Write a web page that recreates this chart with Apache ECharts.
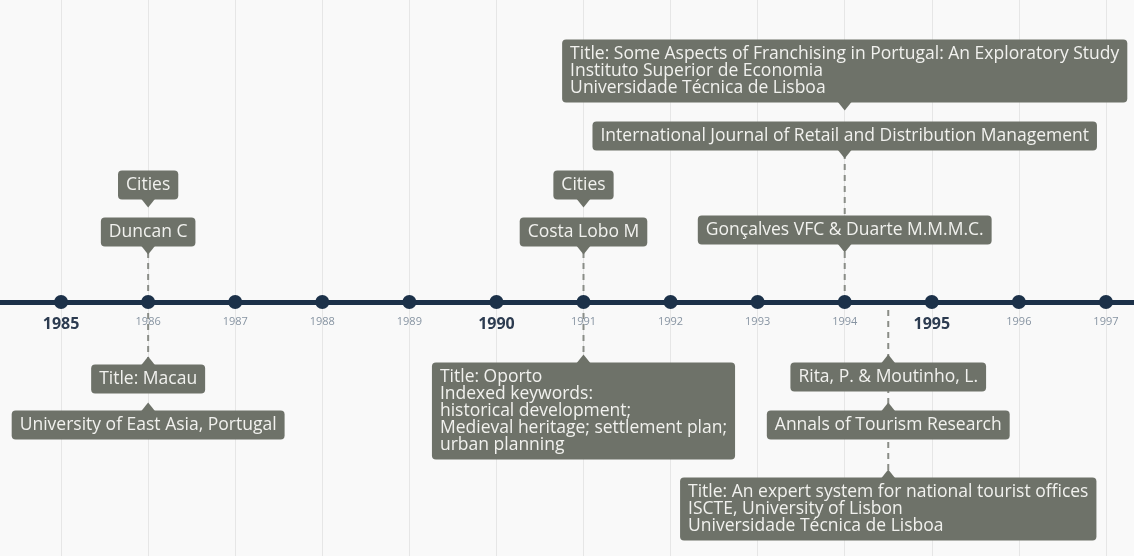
<!DOCTYPE html>
<html>
<head>
<meta charset="utf-8">
<script src="https://cdn.jsdelivr.net/npm/echarts@6/dist/echarts.min.js"></script>
<style>
  html, body { margin: 0; padding: 0; background: #f9f9f9; }
  #chart { width: 1134px; height: 556px; }
</style>
</head>
<body>
<div id="chart"></div>
<script>
// timeline years and the bold ones
const years = [1985, 1986, 1987, 1988, 1989, 1990, 1991, 1992, 1993, 1994, 1995, 1996, 1997]
const majorYears = [1985, 1990, 1995]

// each info box: the year it hangs from and its text
const boxYear = [1986, 1986, 1986, 1986, 1991, 1991, 1991, 1994, 1994, 1994, 1994.5, 1994.5, 1994.5]
const boxText = [
  'Duncan C',
  'Cities',
  'Title: Macau',
  'University of East Asia, Portugal',
  'Costa Lobo M',
  'Cities',
  'Title: Oporto\nIndexed keywords:\nhistorical development;\nMedieval heritage; settlement plan;\nurban planning',
  'Gonçalves VFC & Duarte M.M.M.C.',
  'International Journal of Retail and Distribution Management',
  'Title: Some Aspects of Franchising in Portugal: An Exploratory Study\nInstituto Superior de Economia\nUniversidade Técnica de Lisboa',
  'Rita, P. & Moutinho, L.',
  'Annals of Tourism Research',
  'Title: An expert system for national tourist offices\nISCTE, University of Lisbon\nUniversidade Técnica de Lisboa'
]
// dashed connectors from the axis
const linkYear = [1986, 1986, 1991, 1991, 1994, 1994.5]

// layout only: px above (+) / below (-) the axis line
const boxOffset = [70, 117, -77, -123, 70, 117, -109, 72, 166, 231, -75, -123, -207]
const linkFrom = [0, 0, 0, 0, 0, -8]
const linkTo = [49, -56, 49, -56, 147, -168]

const LINE_H = 17
const PAD_V = 6
const BOX_COLOR = '#6e7269'
const NAVY = '#1c3149'
const FONT = 'Open Sans'

const boxHeight = t => t.split('\n').length * LINE_H + PAD_V * 2

const chart = echarts.init(document.getElementById('chart'))

const series = []

// dashed connectors
linkYear.forEach((y, i) => {
  series.push({
    type: 'line',
    silent: true,
    symbol: 'none',
    z: 1,
    data: [[y, linkFrom[i]], [y, linkTo[i]]],
    lineStyle: { color: '#8a8d87', width: 2, type: [6, 5] }
  })
})

// pointers on the boxes
series.push({
  type: 'scatter',
  silent: true,
  clip: false,
  z: 3,
  data: boxYear.map((y, i) => {
    const h = boxHeight(boxText[i])
    const up = boxOffset[i] > 0
    const edge = up ? boxOffset[i] - h / 2 - 3 : boxOffset[i] + h / 2 + 3
    return { value: [y, edge], symbolRotate: up ? 180 : 0 }
  }),
  symbol: 'triangle',
  symbolSize: [16, 10],
  itemStyle: { color: BOX_COLOR, opacity: 1 }
})

// the boxes
series.push({
  type: 'scatter',
  silent: true,
  clip: false,
  z: 4,
  symbolSize: 0,
  itemStyle: { opacity: 1 },
  data: boxYear.map((y, i) => [y, boxOffset[i]]),
  label: {
    show: true,
    position: 'inside',
    backgroundColor: BOX_COLOR,
    borderRadius: 4,
    padding: [PAD_V, 8],
    formatter: p => boxText[p.dataIndex].split('\n').map(l => '{t|' + l + '}').join('\n'),
    rich: {
      t: {
        fontFamily: FONT,
        fontSize: 17.5,
        lineHeight: LINE_H,
        color: '#f1f1ee',
        align: 'left'
      }
    }
  }
})

// year dots
series.push({
  type: 'scatter',
  silent: true,
  z: 5,
  symbolSize: 14,
  data: years.map(y => [y, 0]),
  itemStyle: { color: NAVY, opacity: 1 }
})

// year labels under the axis
series.push({
  type: 'scatter',
  silent: true,
  z: 5,
  symbolSize: 0,
  itemStyle: { opacity: 1 },
  data: years.map(y => [y, 0]),
  label: {
    show: true,
    position: 'bottom',
    distance: 14,
    formatter: p => majorYears.includes(p.value[0]) ? '{maj|' + p.value[0] + '}' : '{min|' + p.value[0] + '}',
    rich: {
      maj: { fontFamily: FONT, fontSize: 16, fontWeight: 'bold', color: '#2c3b50' },
      min: { fontFamily: FONT, fontSize: 11, color: '#8794a2', padding: [0, 0, 3, 0] }
    }
  }
})

chart.setOption({
  backgroundColor: '#f9f9f9',
  animation: false,
  grid: { left: -26, right: -59, top: 0, bottom: 0, outerBoundsMode: 'none', containLabel: false },
  xAxis: {
    type: 'value',
    min: 1984,
    max: 1998,
    interval: 1,
    axisLine: { onZero: true, lineStyle: { color: NAVY, width: 5 } },
    axisTick: { show: false },
    axisLabel: { show: false },
    splitLine: { show: true, lineStyle: { color: '#e6e6e6', width: 1 } }
  },
  yAxis: {
    type: 'value',
    min: -254,
    max: 302,
    show: false,
    splitLine: { show: false }
  },
  series: series
})
</script>
</body>
</html>
